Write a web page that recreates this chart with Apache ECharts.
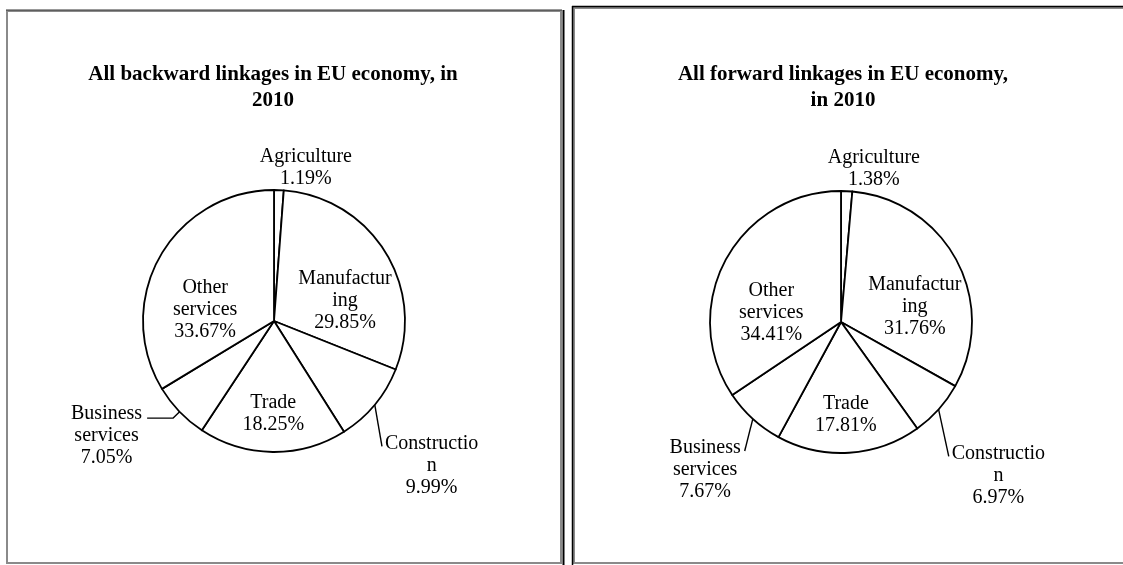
<!DOCTYPE html>
<html><head><meta charset="utf-8">
<script src="https://cdn.jsdelivr.net/npm/echarts@6/dist/echarts.min.js"></script>
<style>html,body{margin:0;padding:0;background:#fff}#c{width:1123px;height:565px}</style>
</head><body><div id="c"></div>
<script>
// ---- data ----
const categories = ['Agriculture', 'Manufacturing', 'Construction', 'Trade', 'Business services', 'Other services'];
const labelLines = [['Agriculture'], ['Manufactur', 'ing'], ['Constructio', 'n'], ['Trade'], ['Business', 'services'], ['Other', 'services']];
const backwardValues = [1.19, 29.85, 9.99, 18.25, 7.05, 33.67];
const forwardValues = [1.38, 31.76, 6.97, 17.81, 7.67, 34.41];
const titles = ['All backward linkages in EU economy, in\n2010', 'All forward linkages in EU economy,\nin 2010'];

// ---- layout / style ----
const FONT = 'Liberation Serif';
const R = 131;
const LH = 22;
const topIdx = [0];
const innerIdx = [1, 3, 5];
const panels = [
  { values: backwardValues, title: titles[0], cx: 274, cy: 321, titleX: 273,
    outer: { 2: { len: 12, len2: 0, dist: 1, pad: 106, direct: true }, 4: { len: 9, len2: 26, dist: 5, pad: 36 } } },
  { values: forwardValues, title: titles[1], cx: 841, cy: 322, titleX: 843,
    outer: { 2: { len: 15, len2: 0, dist: 2, pad: 112, direct: true }, 4: { len: 15, len2: 0, dist: 2, pad: 80, direct: true } } }
];
const pct = v => v.toFixed(2) + '%';
const labelText = (i, v) => labelLines[i].concat([pct(v)]).join('\n');
const textStyle = { fontFamily: FONT, fontSize: 20, lineHeight: LH, color: '#000' };

const series = [];
panels.forEach(p => {
  // real pie
  series.push({
    type: 'pie', center: [p.cx, p.cy], radius: [0, R], startAngle: 90, clockwise: true,
    avoidLabelOverlap: false, silent: true, emphasis: { disabled: true }, z: 2,
    itemStyle: { color: '#fff', borderColor: '#000', borderWidth: 1.8 },
    label: { show: false }, labelLine: { show: false },
    labelLayout: prm => {
      const o = p.outer[prm.dataIndex];
      const pts = prm.labelLinePoints;
      if (!o || !o.direct || !pts) return {};
      const r = prm.labelRect;
      const toRight = r.x + r.width / 2 > pts[0][0];
      const ex = toRight ? r.x - 3 : r.x + r.width + 4;
      const nLines = labelLines[prm.dataIndex].length + 1;
      const ey = r.y + r.height - LH / 2 - (nLines - 1) * LH + 4;
      const end = [ex, ey];
      return { labelLinePoints: [pts[0], end, end] };
    },
    data: p.values.map((v, i) => {
      const item = { name: categories[i], value: v };
      const o = p.outer[i];
      if (o) {
        item.label = {
          show: true, position: 'outside', distanceToLabelLine: o.dist, padding: [o.pad, 0, 0, 0],
          formatter: q => labelLines[q.dataIndex].concat([pct(q.value)]).map(s => '{c|' + s + '}').join('\n'),
          rich: { c: Object.assign({ align: 'center' }, textStyle) }
        };
        item.labelLine = { show: true, length: o.len, length2: o.len2, lineStyle: { color: '#000', width: 1.4 } };
      }
      return item;
    })
  });
  // label ring for inner labels
  series.push({
    type: 'pie', center: [p.cx, p.cy + 18], radius: [0, 152], startAngle: 90, clockwise: true,
    avoidLabelOverlap: false, silent: true, emphasis: { disabled: true }, z: 3,
    itemStyle: { color: 'rgba(0,0,0,0)', borderWidth: 0 },
    label: { show: false }, labelLine: { show: false },
    labelLayout: prm => {
      const r = prm.labelRect;
      const mx = r.x + r.width / 2, my = r.y + r.height / 2;
      if (my > p.cy) return { dy: -4 };
      return mx < p.cx ? { dy: 10 } : { dy: 4, dx: 4 };
    },
    data: p.values.map((v, i) => ({
      name: categories[i], value: v,
      label: innerIdx.includes(i) ? Object.assign({ show: true, position: 'inside', formatter: q => labelText(q.dataIndex, q.value) }, textStyle) : { show: false }
    }))
  });
  // label ring for the top label
  series.push({
    type: 'pie', center: [p.cx, p.cy], radius: [0, 310], startAngle: 90, clockwise: true,
    avoidLabelOverlap: false, silent: true, emphasis: { disabled: true }, z: 3,
    itemStyle: { color: 'rgba(0,0,0,0)', borderWidth: 0 },
    label: { show: false }, labelLine: { show: false },
    labelLayout: { dx: 26, dy: 5 },
    data: p.values.map((v, i) => ({
      name: categories[i], value: v,
      label: topIdx.includes(i) ? Object.assign({ show: true, position: 'inside', formatter: q => labelText(q.dataIndex, q.value) }, textStyle) : { show: false }
    }))
  });
});

const line = (x1, y1, x2, y2, color, w) => ({ type: 'line', shape: { x1, y1, x2, y2 }, style: { stroke: color, lineWidth: w }, silent: true });
const graphic = [
  { type: 'rect', shape: { x: 7, y: 11, width: 554, height: 552 }, style: { fill: 'none', stroke: '#8a8a8a', lineWidth: 2 }, silent: true },
  line(6, 10, 562, 10, '#333', 1),
  line(563.5, 10, 563.5, 565, '#000', 2),
  { type: 'rect', shape: { x: 574, y: 8, width: 580, height: 555 }, style: { fill: 'none', stroke: '#8a8a8a', lineWidth: 2 }, silent: true },
  line(572.5, 6, 572.5, 565, '#000', 1.5),
  line(572, 6.5, 1123, 6.5, '#000', 1.5)
];

const chart = echarts.init(document.getElementById('c'), null, { renderer: 'canvas' });
chart.setOption({
  animation: false,
  backgroundColor: '#fff',
  title: panels.map(p => ({
    text: p.title, left: p.titleX, top: 62, textAlign: 'center', padding: 0,
    textStyle: { fontFamily: FONT, fontSize: 21, fontWeight: 'bold', lineHeight: 26, color: '#000' }
  })),
  graphic: graphic,
  series: series
});
</script></body></html>
